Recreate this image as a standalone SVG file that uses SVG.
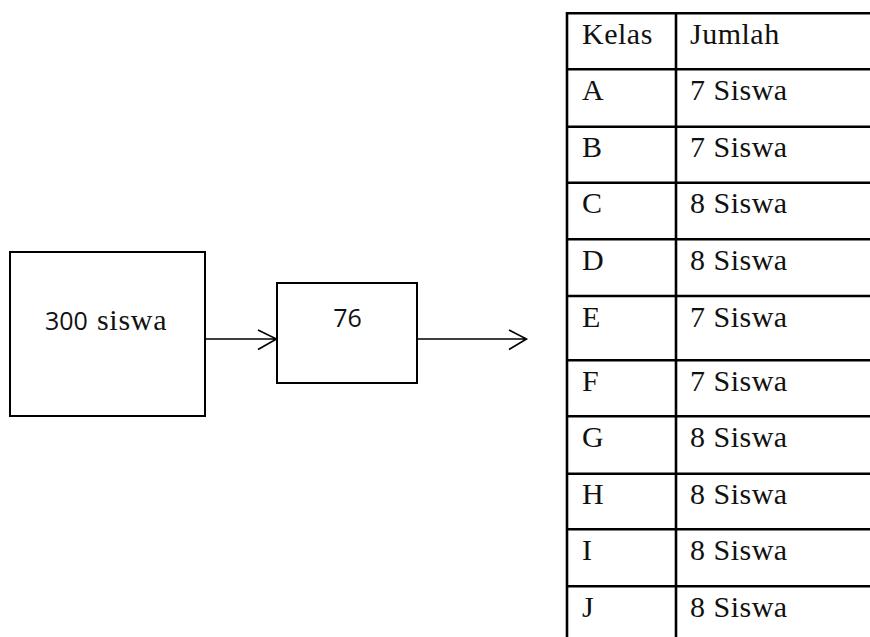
<svg xmlns="http://www.w3.org/2000/svg" width="870" height="637" viewBox="0 0 870 637">
<style>
.box{fill:#fff;stroke:#000;stroke-width:2}
.conn{fill:none;stroke:#000;stroke-width:1.6}
.grid{stroke:#000;stroke-width:2.6}
.t{font-family:"Liberation Serif","Times New Roman",serif;font-size:30px;letter-spacing:0.5px;fill:#111}
.s{font-family:"Open Sans","Noto Sans",sans-serif;font-size:25px;fill:#111}
.sw{font-family:"Liberation Serif","Times New Roman",serif;font-size:30px;letter-spacing:0.7px;fill:#111}
</style>
<rect width="870" height="637" fill="#fff"/>
<g id="node-300">
<rect class="box" x="10" y="252" width="195" height="164"/>
<text class="s" x="45" y="330">300</text>
<text class="sw" x="97" y="330">siswa</text>
</g>
<g id="node-76">
<rect class="box" x="277" y="283" width="140" height="100"/>
<text class="s" x="347.5" y="327" text-anchor="middle">76</text>
</g>
<g id="connectors">
<path class="conn" d="M205 339H276.5M258 330L276.5 339L258 349.5"/>
<path class="conn" d="M417 339H526.5M509 330L526.5 339L509 349.5"/>
</g>
<g id="table">
<g class="grid">
<line x1="567" y1="12" x2="567" y2="637"/>
<line x1="676" y1="12" x2="676" y2="637"/>
<line x1="566" y1="13.3" x2="870" y2="13.3"/>
<line x1="566" y1="69.3" x2="870" y2="69.3"/>
<line x1="566" y1="126.7" x2="870" y2="126.7"/>
<line x1="566" y1="182.7" x2="870" y2="182.7"/>
<line x1="566" y1="239.3" x2="870" y2="239.3"/>
<line x1="566" y1="296" x2="870" y2="296"/>
<line x1="566" y1="360.3" x2="870" y2="360.3"/>
<line x1="566" y1="416.3" x2="870" y2="416.3"/>
<line x1="566" y1="473.7" x2="870" y2="473.7"/>
<line x1="566" y1="529.3" x2="870" y2="529.3"/>
<line x1="566" y1="586.3" x2="870" y2="586.3"/>
</g>
<text class="t" x="582" y="44">Kelas</text><text class="t" x="690" y="44">Jumlah</text>
<text class="t" x="582" y="100">A</text><text class="t" x="690" y="100">7 Siswa</text>
<text class="t" x="582" y="157">B</text><text class="t" x="690" y="157">7 Siswa</text>
<text class="t" x="582" y="213">C</text><text class="t" x="690" y="213">8 Siswa</text>
<text class="t" x="582" y="269.5">D</text><text class="t" x="690" y="269.5">8 Siswa</text>
<text class="t" x="582" y="326.5">E</text><text class="t" x="690" y="326.5">7 Siswa</text>
<text class="t" x="582" y="390.5">F</text><text class="t" x="690" y="390.5">7 Siswa</text>
<text class="t" x="582" y="446.5">G</text><text class="t" x="690" y="446.5">8 Siswa</text>
<text class="t" x="582" y="504">H</text><text class="t" x="690" y="504">8 Siswa</text>
<text class="t" x="582" y="559.5">I</text><text class="t" x="690" y="559.5">8 Siswa</text>
<text class="t" x="582" y="616.5">J</text><text class="t" x="690" y="616.5">8 Siswa</text>
</g>
</svg>
